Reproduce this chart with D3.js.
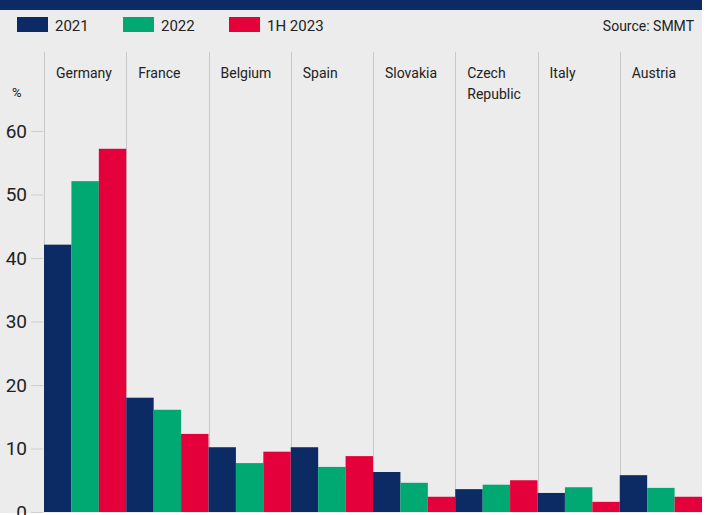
<!DOCTYPE html>
<html>
<head>
<meta charset="utf-8">
<script src="https://cdn.jsdelivr.net/npm/d3@7"></script>
<style>
  html, body { margin: 0; padding: 0; background: #ffffff; }
  svg { display: block; font-family: Roboto, "Noto Sans", sans-serif; }
</style>
</head>
<body>
<svg id="chart" width="708" height="515"></svg>
<script>
const categories = ["Germany", "France", "Belgium", "Spain", "Slovakia", "Czech Republic", "Italy", "Austria"];
const seriesNames = ["2021", "2022", "1H 2023"];
const values2021 = [42.1, 18.0, 10.2, 10.2, 6.3, 3.6, 3.0, 5.8];
const values2022 = [52.1, 16.1, 7.7, 7.1, 4.6, 4.3, 3.9, 3.8];
const values1H2023 = [57.2, 12.3, 9.5, 8.8, 2.4, 5.0, 1.6, 2.4];
const yTicks = [0, 10, 20, 30, 40, 50, 60];
const colors = ["#0c2b64", "#00a872", "#e4003a"];

const seriesValues = [values2021, values2022, values1H2023];
const svg = d3.select("#chart");

// background
svg.append("rect").attr("x", 0).attr("y", 0).attr("width", 702).attr("height", 513).attr("fill", "#ececec");
svg.append("rect").attr("x", 0).attr("y", 0).attr("width", 702).attr("height", 10).attr("fill", "#0c2b64");

const x = d3.scaleBand().domain(categories).range([44, 702]).paddingInner(0).paddingOuter(0);
const xs = d3.scaleBand().domain(seriesNames).range([0, x.bandwidth()]).padding(0);
const y = d3.scaleLinear().domain([0, 60]).range([512, 131]);

// category separators
svg.append("g").selectAll("line").data(categories).join("line")
  .attr("x1", d => Math.round(x(d)) + 0.5).attr("x2", d => Math.round(x(d)) + 0.5)
  .attr("y1", 52).attr("y2", 512)
  .attr("stroke", "#c8c8c8").attr("stroke-width", 1);

// y axis
const yAxis = d3.axisLeft(y).tickValues(yTicks).tickSize(12).tickPadding(4).tickFormat(d3.format("d"));
const yg = svg.append("g").attr("transform", "translate(43,0)").call(yAxis);
yg.select(".domain").remove();
yg.selectAll(".tick line").attr("stroke", "#cfcfcf");
yg.selectAll(".tick text").attr("fill", "#222").style("font-size", "19px").style("font-family", "Roboto, sans-serif");

svg.append("text").attr("x", 12).attr("y", 97).text("%").attr("fill", "#222").style("font-size", "13px");

// bars
const data = [];
categories.forEach((c, i) => seriesNames.forEach((s, j) => data.push({ c, s, j, v: seriesValues[j][i] })));
svg.append("g").selectAll("rect").data(data).join("rect")
  .attr("x", d => x(d.c) + xs(d.s))
  .attr("width", xs.bandwidth())
  .attr("y", d => y(d.v))
  .attr("height", d => y(0) - y(d.v))
  .attr("fill", d => colors[d.j]);

// category labels
const labels = svg.append("g").selectAll("text").data(categories).join("text")
  .attr("x", d => x(d) + 12).attr("y", 78)
  .attr("fill", "#222").style("font-size", "14px");
labels.each(function(d) {
  const t = d3.select(this);
  const parts = d === "Czech Republic" ? ["Czech", "Republic"] : [d];
  parts.forEach((p, k) => t.append("tspan").attr("x", x(d) + 12).attr("dy", k === 0 ? 0 : 21).text(p));
});

// legend
const legend = svg.append("g");
const legendX = [17, 123, 229];
seriesNames.forEach((s, j) => {
  legend.append("rect").attr("x", legendX[j]).attr("y", 17).attr("width", 31).attr("height", 15).attr("fill", colors[j]);
  legend.append("text").attr("x", legendX[j] + 38).attr("y", 31).text(s).attr("fill", "#222").style("font-size", "15px");
});
svg.append("text").attr("x", 694).attr("y", 31).attr("text-anchor", "end").text("Source: SMMT")
  .attr("fill", "#222").style("font-size", "14px");
</script>
</body>
</html>
